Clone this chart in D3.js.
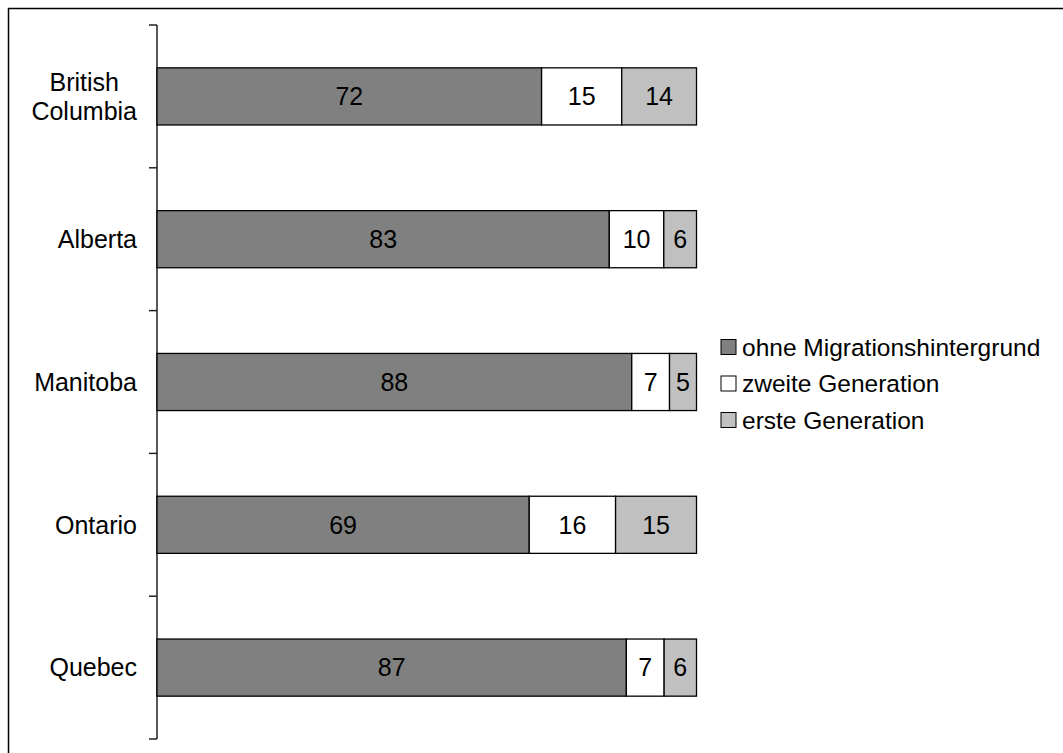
<!DOCTYPE html>
<html>
<head>
<meta charset="utf-8">
<script src="https://cdn.jsdelivr.net/npm/d3@7"></script>
<style>
  html, body { margin: 0; padding: 0; background: #fff; }
  svg { display: block; font-family: Arial, "Liberation Sans", sans-serif; }
</style>
</head>
<body>
<svg id="chart" width="1063" height="753"></svg>
<script>
const categories = ["British Columbia", "Alberta", "Manitoba", "Ontario", "Quebec"];
const seriesNames = ["ohne Migrationshintergrund", "zweite Generation", "erste Generation"];
const ohne = [72, 83, 88, 69, 87];
const zweite = [15, 10, 7, 16, 7];
const erste = [14, 6, 5, 15, 6];
const colors = ["#808080", "#ffffff", "#c0c0c0"];

const svg = d3.select("#chart");
const fontSize = 25;

// outer frame (extends beyond right/bottom of the picture)
svg.append("rect")
  .attr("x", 8.5).attr("y", 8.5)
  .attr("width", 1200).attr("height", 900)
  .attr("fill", "none").attr("stroke", "#000").attr("stroke-width", 1.5);

const rows = categories.map((c, i) => {
  const vals = [ohne[i], zweite[i], erste[i]];
  const total = d3.sum(vals);
  let acc = 0;
  return {
    cat: c,
    segs: vals.map((v, j) => {
      const s = { v, j, x0: acc / total * 100, x1: (acc + v) / total * 100 };
      acc += v;
      return s;
    })
  };
});

const x = d3.scaleLinear().domain([0, 100]).range([157, 696.5]);
const y = d3.scaleBand().domain(categories).range([25, 739]).paddingInner(0.6).paddingOuter(0.3);

// axis line + ticks at band boundaries
const step = y.step();
const y0 = 25;
const axisG = svg.append("g");
axisG.append("line")
  .attr("x1", 157).attr("x2", 157)
  .attr("y1", y0).attr("y2", y0 + step * categories.length)
  .attr("stroke", "#222").attr("stroke-width", 1.5);
d3.range(categories.length + 1).forEach(k => {
  axisG.append("line")
    .attr("x1", 149).attr("x2", 157)
    .attr("y1", y0 + k * step).attr("y2", y0 + k * step)
    .attr("stroke", "#222").attr("stroke-width", 1.5);
});

// bars
const rowG = svg.selectAll(".row").data(rows).enter().append("g");
rowG.each(function(r) {
  const g = d3.select(this);
  const yy = y(r.cat);
  const h = y.bandwidth();
  g.selectAll("rect").data(r.segs).enter().append("rect")
    .attr("x", d => x(d.x0))
    .attr("y", yy)
    .attr("width", d => x(d.x1) - x(d.x0))
    .attr("height", h)
    .attr("fill", d => colors[d.j])
    .attr("stroke", "#000").attr("stroke-width", 1.3);
  g.selectAll("text").data(r.segs).enter().append("text")
    .attr("x", d => (x(d.x0) + x(d.x1)) / 2)
    .attr("y", yy + h / 2)
    .attr("dy", "0.35em")
    .attr("text-anchor", "middle")
    .attr("font-size", fontSize)
    .attr("fill", "#000")
    .text(d => d.v);
});

// category labels (block right-aligned at x=137, lines centered within block)
const labelRight = 137;
const lineH = 29;
categories.forEach(c => {
  const lines = c === "British Columbia" ? ["British", "Columbia"] : [c];
  const cy = y(c) + y.bandwidth() / 2;
  const t = svg.append("text").attr("font-size", fontSize).attr("fill", "#000");
  const tspans = lines.map((ln, i) => t.append("tspan")
    .attr("y", cy + (i - (lines.length - 1) / 2) * lineH)
    .attr("dy", "0.35em")
    .text(ln));
  const widths = tspans.map(ts => ts.node().getComputedTextLength());
  const maxW = d3.max(widths);
  const center = labelRight - maxW / 2;
  tspans.forEach(ts => ts.attr("x", center).attr("text-anchor", "middle"));
});

// legend
const legY = [347, 383.5, 420];
seriesNames.forEach((n, i) => {
  svg.append("rect")
    .attr("x", 721).attr("y", legY[i] - 7.5)
    .attr("width", 15).attr("height", 15)
    .attr("fill", colors[i]).attr("stroke", "#000").attr("stroke-width", 1);
  svg.append("text")
    .attr("x", 742).attr("y", legY[i])
    .attr("dy", "0.35em")
    .attr("font-size", 24.5)
    .attr("fill", "#000")
    .text(n);
});
</script>
</body>
</html>
